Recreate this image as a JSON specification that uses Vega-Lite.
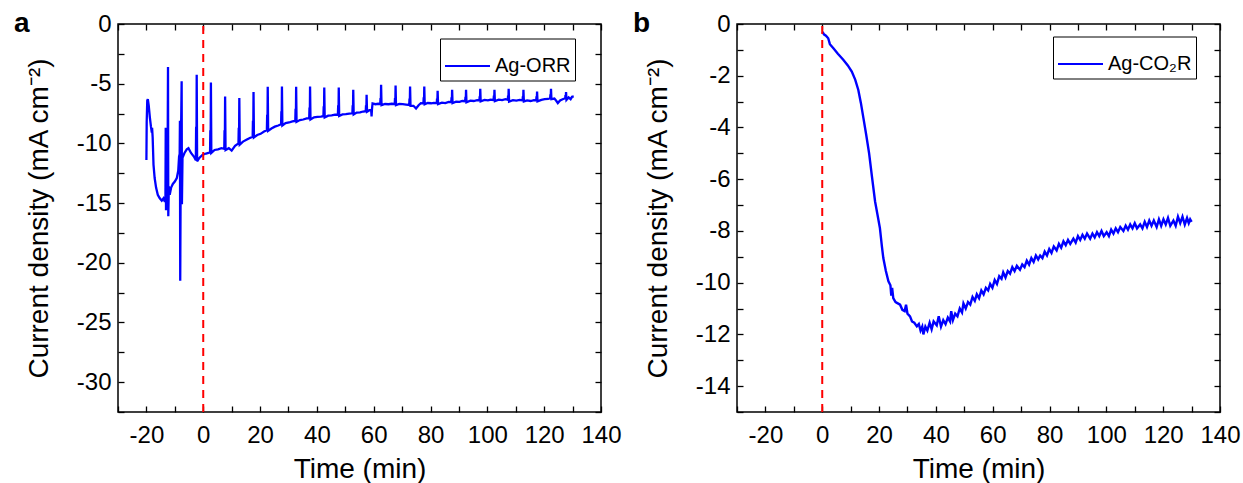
{
  "$schema": "https://vega.github.io/schema/vega-lite/v6.json",
  "padding": {"left": 13, "top": 9, "right": 5, "bottom": 0},
  "spacing": 10,
  "config": {
    "font": "Liberation Sans",
    "view": {"stroke": "black", "strokeWidth": 1.5},
    "axis": {"grid": false, "domain": false, "tickColor": "black", "tickWidth": 1.3, "tickSize": -6, "labelColor": "black", "labelFontSize": 24, "labelFont": "Liberation Sans", "titleFont": "Liberation Sans", "titleFontSize": 28, "titleFontWeight": "normal", "titleColor": "black", "labelFlush": false, "labelOverlap": false},
    "legend": {"strokeColor": "black", "strokeWidth": 1, "fillColor": "white", "padding": 4, "cornerRadius": 0, "symbolType": "stroke", "symbolStrokeWidth": 2, "symbolSize": 2025, "labelFontSize": 20, "labelFont": "Liberation Sans", "labelColor": "black", "labelOffset": 4}
  },
  "hconcat": [
    {
      "width": 483,
      "height": 388,
      "title": {"text": "a", "anchor": "start", "frame": "group", "fontSize": 28, "fontWeight": "bold", "dx": -104, "dy": 38, "offset": -10, "baseline": "alphabetic", "color": "black", "font": "Liberation Sans"},
      "layer": [
        {
          "data": {"values": [
            {"t":-20.0,"v":-11.4},{"t":-19.9,"v":-8.2},{"t":-19.7,"v":-6.4},{"t":-19.5,"v":-6.3},{"t":-19.2,"v":-6.8},{"t":-18.8,"v":-7.8},{"t":-18.4,"v":-8.6},{"t":-18.1,"v":-9.1},{"t":-18.0,"v":-8.7},{"t":-17.8,"v":-9.5},{"t":-17.5,"v":-11.8},{"t":-17.1,"v":-12.9},{"t":-16.6,"v":-13.7},{"t":-16.0,"v":-14.3},{"t":-15.3,"v":-14.6},{"t":-14.6,"v":-14.8},{"t":-14.0,"v":-14.6},{"t":-13.5,"v":-14.9},{"t":-13.3,"v":-14.4},{"t":-13.2,"v":-8.7},{"t":-13.1,"v":-15.6},{"t":-12.9,"v":-14.2},{"t":-12.6,"v":-14.8},{"t":-12.4,"v":-3.6},{"t":-12.3,"v":-16.1},{"t":-12.1,"v":-13.6},{"t":-11.8,"v":-14.3},{"t":-11.3,"v":-13.7},{"t":-10.7,"v":-13.4},{"t":-10.0,"v":-13.2},{"t":-9.3,"v":-12.9},{"t":-8.8,"v":-12.3},{"t":-8.5,"v":-11.1},{"t":-8.3,"v":-10.9},{"t":-8.2,"v":-8.1},{"t":-8.1,"v":-21.5},{"t":-7.9,"v":-11.0},{"t":-7.6,"v":-4.8},{"t":-7.5,"v":-15.1},{"t":-7.3,"v":-11.2},{"t":-6.6,"v":-10.8},{"t":-5.8,"v":-10.5},{"t":-5.2,"v":-10.4},{"t":-4.3,"v":-10.8},{"t":-3.3,"v":-11.1},{"t":-2.6,"v":-11.4},{"t":-2.5,"v":-8.6},{"t":-2.4,"v":-11.2},{"t":-2.3,"v":-4.25},{"t":-2.15,"v":-11.5},{"t":-1.3,"v":-11.2},{"t":-0.2,"v":-10.95},{"t":1.0,"v":-10.85},{"t":2.4,"v":-10.75},
            {"t":2.5,"v":-8.9},{"t":2.6,"v":-10.7},{"t":2.7,"v":-4.9},{"t":2.85,"v":-10.8},{"t":4.0,"v":-10.55},{"t":5.2,"v":-10.5},{"t":6.4,"v":-10.4},{"t":7.4,"v":-10.45},
            {"t":7.5,"v":-8.9},{"t":7.6,"v":-10.45},{"t":7.7,"v":-6.07},{"t":7.85,"v":-10.55},{"t":9.0,"v":-10.4},{"t":10.0,"v":-10.6},{"t":11.2,"v":-10.2},{"t":12.4,"v":-10.0},
            {"t":12.5,"v":-8.7},{"t":12.6,"v":-10.0},{"t":12.7,"v":-6.2},{"t":12.85,"v":-10.1},{"t":14.0,"v":-9.85},{"t":15.2,"v":-9.7},{"t":16.4,"v":-9.55},{"t":17.4,"v":-9.45},
            {"t":17.5,"v":-8.1},{"t":17.6,"v":-9.43},{"t":17.7,"v":-5.7},{"t":17.85,"v":-9.5},{"t":19.0,"v":-9.3},{"t":20.2,"v":-9.2},{"t":21.4,"v":-9.0},{"t":22.4,"v":-8.9},
            {"t":22.5,"v":-7.6},{"t":22.6,"v":-8.88},{"t":22.7,"v":-5.26},{"t":22.85,"v":-8.95},{"t":24.0,"v":-8.75},{"t":25.2,"v":-8.6},{"t":26.4,"v":-8.5},{"t":27.4,"v":-8.4},
            {"t":27.5,"v":-7.3},{"t":27.6,"v":-8.4},{"t":27.7,"v":-5.23},{"t":27.85,"v":-8.5},{"t":29.0,"v":-8.3},{"t":30.2,"v":-8.25},{"t":31.4,"v":-8.15},{"t":32.4,"v":-8.12},
            {"t":32.5,"v":-7.1},{"t":32.6,"v":-8.1},{"t":32.7,"v":-5.26},{"t":32.85,"v":-8.2},{"t":34.0,"v":-8.05},{"t":35.2,"v":-8.0},{"t":36.4,"v":-7.9},{"t":37.3,"v":-7.9},
            {"t":37.4,"v":-7.0},{"t":37.5,"v":-7.9},{"t":37.6,"v":-5.23},{"t":37.75,"v":-8.0},{"t":39.0,"v":-7.82},{"t":40.2,"v":-7.78},{"t":41.4,"v":-7.75},{"t":42.3,"v":-7.72},
            {"t":42.4,"v":-6.9},{"t":42.5,"v":-7.72},{"t":42.6,"v":-5.32},{"t":42.75,"v":-7.82},{"t":44.0,"v":-7.68},{"t":45.2,"v":-7.65},{"t":46.4,"v":-7.6},{"t":47.4,"v":-7.6},
            {"t":47.5,"v":-6.8},{"t":47.6,"v":-7.6},{"t":47.7,"v":-5.32},{"t":47.85,"v":-7.7},{"t":49.0,"v":-7.57},{"t":50.2,"v":-7.55},{"t":51.4,"v":-7.5},{"t":52.5,"v":-7.48},
            {"t":52.6,"v":-6.8},{"t":52.7,"v":-7.47},{"t":52.8,"v":-5.51},{"t":52.95,"v":-7.57},{"t":54.0,"v":-7.42},{"t":55.2,"v":-7.4},{"t":56.3,"v":-7.33},{"t":57.2,"v":-7.3},
            {"t":57.3,"v":-6.8},{"t":57.4,"v":-7.28},{"t":57.5,"v":-5.93},{"t":57.65,"v":-7.35},{"t":58.5,"v":-7.22},{"t":59.1,"v":-7.2},{"t":59.25,"v":-7.75},{"t":59.4,"v":-7.1},{"t":59.6,"v":-6.65},{"t":60.6,"v":-6.72},{"t":61.6,"v":-6.68},{"t":62.3,"v":-6.71},
            {"t":62.4,"v":-6.2},{"t":62.5,"v":-6.71},{"t":62.6,"v":-5.09},{"t":62.75,"v":-6.8},{"t":64.0,"v":-6.7},{"t":65.2,"v":-6.72},{"t":66.4,"v":-6.68},{"t":67.4,"v":-6.71},
            {"t":67.5,"v":-6.2},{"t":67.6,"v":-6.71},{"t":67.7,"v":-5.15},{"t":67.85,"v":-6.8},{"t":69.0,"v":-6.7},{"t":70.2,"v":-6.72},{"t":71.4,"v":-6.75},{"t":72.5,"v":-6.78},
            {"t":72.6,"v":-6.25},{"t":72.7,"v":-6.78},{"t":72.8,"v":-5.23},{"t":72.95,"v":-6.85},{"t":74.0,"v":-6.85},{"t":74.9,"v":-7.08},{"t":75.8,"v":-6.8},{"t":76.6,"v":-6.63},{"t":77.5,"v":-6.65},
            {"t":77.6,"v":-6.15},{"t":77.7,"v":-6.65},{"t":77.8,"v":-5.23},{"t":77.95,"v":-6.72},{"t":79.0,"v":-6.62},{"t":80.2,"v":-6.64},{"t":81.2,"v":-6.6},{"t":82.2,"v":-6.62},
            {"t":82.3,"v":-6.25},{"t":82.4,"v":-6.62},{"t":82.5,"v":-5.6},{"t":82.65,"v":-6.7},{"t":84.0,"v":-6.58},{"t":85.2,"v":-6.62},{"t":86.4,"v":-6.52},{"t":87.3,"v":-6.55},
            {"t":87.4,"v":-6.15},{"t":87.5,"v":-6.55},{"t":87.6,"v":-5.51},{"t":87.75,"v":-6.62},{"t":89.0,"v":-6.5},{"t":90.2,"v":-6.52},{"t":91.2,"v":-6.45},{"t":92.2,"v":-6.47},
            {"t":92.3,"v":-6.1},{"t":92.4,"v":-6.47},{"t":92.5,"v":-5.51},{"t":92.65,"v":-6.55},{"t":94.0,"v":-6.42},{"t":95.2,"v":-6.45},{"t":96.4,"v":-6.38},{"t":97.2,"v":-6.4},
            {"t":97.3,"v":-6.05},{"t":97.4,"v":-6.4},{"t":97.5,"v":-5.43},{"t":97.65,"v":-6.48},{"t":99.0,"v":-6.36},{"t":100.2,"v":-6.4},{"t":101.2,"v":-6.33},{"t":102.2,"v":-6.37},
            {"t":102.3,"v":-6.0},{"t":102.4,"v":-6.37},{"t":102.5,"v":-5.51},{"t":102.65,"v":-6.45},{"t":104.0,"v":-6.33},{"t":105.2,"v":-6.37},{"t":106.4,"v":-6.3},{"t":107.2,"v":-6.35},
            {"t":107.3,"v":-6.0},{"t":107.4,"v":-6.35},{"t":107.5,"v":-5.43},{"t":107.65,"v":-6.5},{"t":109.0,"v":-6.38},{"t":110.2,"v":-6.42},{"t":111.4,"v":-6.36},{"t":112.4,"v":-6.4},
            {"t":112.5,"v":-6.05},{"t":112.6,"v":-6.4},{"t":112.7,"v":-5.51},{"t":112.85,"v":-6.48},{"t":114.0,"v":-6.4},{"t":115.2,"v":-6.45},{"t":116.4,"v":-6.38},{"t":117.2,"v":-6.4},
            {"t":117.3,"v":-6.05},{"t":117.4,"v":-6.4},{"t":117.5,"v":-5.65},{"t":117.65,"v":-6.48},{"t":119.0,"v":-6.35},{"t":120.2,"v":-6.3},{"t":121.4,"v":-6.28},{"t":122.1,"v":-6.22},
            {"t":122.2,"v":-5.9},{"t":122.3,"v":-6.22},{"t":122.4,"v":-5.43},{"t":122.55,"v":-6.3},{"t":123.6,"v":-6.25},{"t":124.3,"v":-6.45},{"t":124.8,"v":-6.62},{"t":125.6,"v":-6.4},{"t":126.5,"v":-6.3},{"t":127.4,"v":-6.22},
            {"t":127.5,"v":-5.95},{"t":127.6,"v":-6.22},{"t":127.7,"v":-5.71},{"t":127.85,"v":-6.35},{"t":128.6,"v":-6.15},{"t":129.3,"v":-6.3},{"t":129.8,"v":-6.1},{"t":130.4,"v":-6.07}
          ]},
          "mark": {"type": "line", "strokeWidth": 2.3, "strokeJoin": "miter", "strokeMiterLimit": 3},
          "encoding": {
            "x": {"field": "t", "type": "quantitative", "scale": {"domain": [-30, 140], "nice": false, "zero": false},
                  "axis": {"values": [-30,-20,-10,0,10,20,30,40,50,60,70,80,90,100,110,120,130,140], "labelExpr": "datum.value % 20 == 0 ? '' + datum.value : ''", "title": "Time (min)", "labelPadding": 17, "titlePadding": 8}},
            "y": {"field": "v", "type": "quantitative", "scale": {"domain": [-32.5, 0], "nice": false, "zero": false},
                  "axis": {"values": [0,-2.5,-5,-7.5,-10,-12.5,-15,-17.5,-20,-22.5,-25,-27.5,-30,-32.5], "labelExpr": "datum.value % 5 == 0 ? '' + datum.value : ''", "title": "Current density (mA cm⁻²)", "labelPadding": 13, "titlePadding": 23}},
            "color": {"datum": "Ag-ORR", "type": "nominal", "scale": {"range": ["#0000ff"]}, "legend": {"title": null, "orient": "none", "legendX": 322, "legendY": 14.5}}
          }
        },
        {
          "data": {"values": [{"t": 0, "lo": -32.5, "hi": 0}]},
          "mark": {"type": "rule", "color": "#ff0000", "strokeDash": [8, 6], "strokeWidth": 2},
          "encoding": {
            "x": {"field": "t", "type": "quantitative", "scale": {"domain": [-30, 140], "nice": false, "zero": false},
                  "axis": {"orient": "top", "values": [-30,-20,-10,0,10,20,30,40,50,60,70,80,90,100,110,120,130,140], "labels": false, "title": null}},
            "y": {"field": "lo", "type": "quantitative", "scale": {"domain": [-32.5, 0], "nice": false, "zero": false},
                  "axis": {"orient": "right", "values": [0,-2.5,-5,-7.5,-10,-12.5,-15,-17.5,-20,-22.5,-25,-27.5,-30,-32.5], "labels": false, "title": null}},
            "y2": {"field": "hi"}
          }
        }
      ],
      "resolve": {"axis": {"x": "independent", "y": "independent"}}
    },
    {
      "width": 483,
      "height": 388,
      "title": {"text": "b", "anchor": "start", "frame": "group", "fontSize": 28, "fontWeight": "bold", "dx": -104, "dy": 38, "offset": -10, "baseline": "alphabetic", "color": "black", "font": "Liberation Sans"},
      "layer": [
        {
          "data": {"values": [
            {"t":0.1,"v":-0.3},{"t":0.6,"v":-0.4},{"t":1.3,"v":-0.45},{"t":2.1,"v":-0.55},{"t":2.7,"v":-0.78},{"t":4.0,"v":-0.95},{"t":5.5,"v":-1.15},{"t":7.4,"v":-1.38},{"t":9.0,"v":-1.6},{"t":10.4,"v":-1.84},{"t":11.6,"v":-2.15},{"t":12.7,"v":-2.55},{"t":13.6,"v":-3.05},{"t":14.5,"v":-3.64},{"t":15.5,"v":-4.3},{"t":16.5,"v":-5.0},{"t":17.5,"v":-5.9},{"t":18.6,"v":-6.86},{"t":19.5,"v":-7.4},{"t":20.3,"v":-7.89},{"t":21.0,"v":-8.6},{"t":21.5,"v":-9.05},{"t":22.4,"v":-9.55},{"t":23.3,"v":-9.95},{"t":24.0,"v":-10.1},{"t":24.3,"v":-10.5},{"t":24.6,"v":-10.2},{"t":25.0,"v":-10.6},
            {"t":25.8,"v":-10.75},{"t":26.6,"v":-10.8},{"t":27.4,"v":-10.85},{"t":28.2,"v":-11.05},{"t":29.0,"v":-11.1},{"t":29.5,"v":-10.85},{"t":30.0,"v":-11.2},{"t":30.9,"v":-11.3},{"t":31.6,"v":-11.5},{"t":32.4,"v":-11.55},{"t":33.3,"v":-11.69},{"t":34.0,"v":-11.6},{"t":34.6,"v":-11.85},{"t":35.2,"v":-11.7},{"t":35.6,"v":-12.0},{"t":36.3,"v":-11.7},{"t":37.0,"v":-11.85},{"t":37.8,"v":-11.55},{"t":38.5,"v":-11.8},{"t":39.2,"v":-11.5},{"t":40.3,"v":-11.65},{"t":41.0,"v":-11.3},{"t":41.8,"v":-11.7},{"t":42.6,"v":-11.45},{"t":43.4,"v":-11.6},{"t":44.2,"v":-11.35},{"t":45.0,"v":-11.5},{"t":45.4,"v":-11.1},{"t":46.0,"v":-11.45},{"t":46.8,"v":-11.2},{"t":47.6,"v":-11.3},{"t":48.4,"v":-11.0},{"t":49.2,"v":-11.15},{"t":49.7,"v":-10.8},{"t":50.5,"v":-11.0},{"t":51.3,"v":-10.75},{"t":52.1,"v":-10.85},{"t":52.9,"v":-10.55},{"t":53.7,"v":-10.7},{"t":54.4,"v":-10.45},{"t":55.2,"v":-10.6},{"t":56.0,"v":-10.3},{"t":56.8,"v":-10.45},{"t":57.6,"v":-10.2},{"t":58.4,"v":-10.3},{"t":59.1,"v":-10.05},{"t":59.9,"v":-10.2},{"t":60.7,"v":-9.9},{"t":61.5,"v":-10.05},{"t":62.3,"v":-9.75},{"t":63.1,"v":-9.85},{"t":63.7,"v":-9.6},{"t":64.5,"v":-9.8},{"t":65.3,"v":-9.55},{"t":66.1,"v":-9.65},{"t":66.9,"v":-9.4},{"t":67.7,"v":-9.55},{"t":68.5,"v":-9.35},{"t":69.6,"v":-9.5},{"t":70.4,"v":-9.3},{"t":71.2,"v":-9.4},{"t":72.0,"v":-9.15},{"t":72.8,"v":-9.3},{"t":73.6,"v":-9.05},{"t":74.4,"v":-9.2},{"t":75.2,"v":-8.95},{"t":76.0,"v":-9.1},{"t":76.7,"v":-8.95},{"t":77.5,"v":-9.05},{"t":78.3,"v":-8.8},{"t":79.1,"v":-8.95},{"t":79.9,"v":-8.7},{"t":80.7,"v":-8.85},{"t":81.5,"v":-8.6},{"t":82.5,"v":-8.75},{"t":83.3,"v":-8.5},{"t":84.1,"v":-8.65},{"t":84.9,"v":-8.4},{"t":85.7,"v":-8.55},{"t":86.5,"v":-8.35},{"t":87.3,"v":-8.5},{"t":88.4,"v":-8.3},{"t":89.2,"v":-8.45},{"t":90.0,"v":-8.2},{"t":90.8,"v":-8.35},{"t":91.6,"v":-8.15},{"t":92.4,"v":-8.3},{"t":93.2,"v":-8.1},{"t":94.3,"v":-8.3},{"t":95.1,"v":-8.1},{"t":95.9,"v":-8.25},{"t":96.7,"v":-8.05},{"t":97.5,"v":-8.2},{"t":98.3,"v":-8.0},{"t":99.1,"v":-8.2},{"t":100.1,"v":-8.05},{"t":100.9,"v":-8.2},{"t":101.7,"v":-7.95},{"t":102.5,"v":-8.1},{"t":103.3,"v":-7.9},{"t":104.1,"v":-8.05},{"t":104.9,"v":-7.85},{"t":106.0,"v":-8.0},{"t":106.8,"v":-7.8},{"t":107.6,"v":-7.95},{"t":108.4,"v":-7.75},{"t":109.2,"v":-7.9},{"t":110.0,"v":-7.7},{"t":110.8,"v":-7.9},{"t":111.9,"v":-7.75},{"t":112.7,"v":-7.9},{"t":113.5,"v":-7.65},{"t":114.3,"v":-7.85},{"t":115.1,"v":-7.6},{"t":115.9,"v":-7.8},{"t":116.7,"v":-7.6},{"t":117.7,"v":-7.85},{"t":118.5,"v":-7.55},{"t":119.3,"v":-7.8},{"t":120.1,"v":-7.55},{"t":120.9,"v":-7.75},{"t":121.7,"v":-7.5},{"t":122.5,"v":-7.8},{"t":123.6,"v":-7.6},{"t":124.4,"v":-7.8},{"t":125.2,"v":-7.45},{"t":126.0,"v":-7.7},{"t":126.8,"v":-7.45},{"t":127.6,"v":-7.75},{"t":128.4,"v":-7.5},{"t":129.0,"v":-7.7},{"t":129.5,"v":-7.55},{"t":130.0,"v":-7.65}
          ]},
          "mark": {"type": "line", "strokeWidth": 2.4},
          "encoding": {
            "x": {"field": "t", "type": "quantitative", "scale": {"domain": [-30, 140], "nice": false, "zero": false},
                  "axis": {"values": [-30,-20,-10,0,10,20,30,40,50,60,70,80,90,100,110,120,130,140], "labelExpr": "datum.value % 20 == 0 ? '' + datum.value : ''", "title": "Time (min)", "labelPadding": 17, "titlePadding": 8}},
            "y": {"field": "v", "type": "quantitative", "scale": {"domain": [-15, 0], "nice": false, "zero": false},
                  "axis": {"values": [0,-1,-2,-3,-4,-5,-6,-7,-8,-9,-10,-11,-12,-13,-14,-15], "labelExpr": "datum.value % 2 == 0 ? '' + datum.value : ''", "title": "Current density (mA cm⁻²)", "labelPadding": 13, "titlePadding": 23}},
            "color": {"datum": "Ag-CO₂R", "type": "nominal", "scale": {"range": ["#0000ff"]}, "legend": {"title": null, "orient": "none", "legendX": 316, "legendY": 12.5}}
          }
        },
        {
          "data": {"values": [{"t": 0, "lo": -15, "hi": 0}]},
          "mark": {"type": "rule", "color": "#ff0000", "strokeDash": [8, 6], "strokeWidth": 2},
          "encoding": {
            "x": {"field": "t", "type": "quantitative", "scale": {"domain": [-30, 140], "nice": false, "zero": false},
                  "axis": {"orient": "top", "values": [-30,-20,-10,0,10,20,30,40,50,60,70,80,90,100,110,120,130,140], "labels": false, "title": null}},
            "y": {"field": "lo", "type": "quantitative", "scale": {"domain": [-15, 0], "nice": false, "zero": false},
                  "axis": {"orient": "right", "values": [0,-1,-2,-3,-4,-5,-6,-7,-8,-9,-10,-11,-12,-13,-14,-15], "labels": false, "title": null}},
            "y2": {"field": "hi"}
          }
        }
      ],
      "resolve": {"axis": {"x": "independent", "y": "independent"}}
    }
  ],
  "resolve": {"scale": {"color": "independent"}}
}
